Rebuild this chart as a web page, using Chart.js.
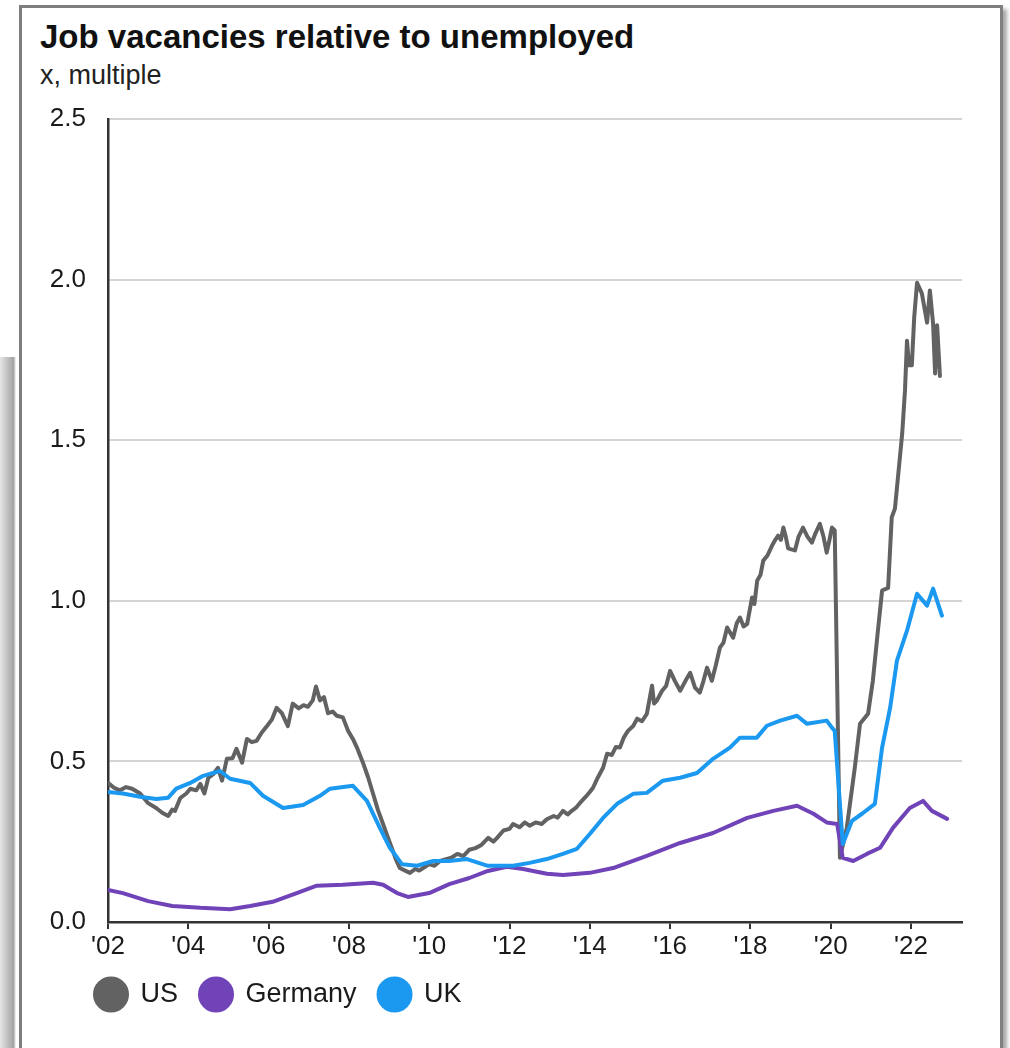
<!DOCTYPE html>
<html>
<head>
<meta charset="utf-8">
<script src="https://cdn.jsdelivr.net/npm/chart.js@4.4.0/dist/chart.umd.min.js"></script>
<style>
  html, body { margin: 0; padding: 0; background: #fff; }
  body { width: 1010px; height: 1048px; position: relative; overflow: hidden; font-family: "Liberation Sans", Arial, sans-serif; }
  #behind { position: absolute; left: 0; top: 357px; width: 16px; height: 720px;
    background: linear-gradient(to right, #e6e6e6, #a4a4a4 85%, #ffffff); }
  #card { position: absolute; left: 19px; top: 5px; width: 978px; height: 1100px;
    border: 3px solid #7f7f7f; background: #fff; box-shadow: 4px 4px 4px rgba(0,0,0,0.35); }
  #title { position: absolute; left: 40px; top: 20px; font-size: 33px; font-weight: bold; line-height: 1; color: #111; white-space: nowrap; }
  #subtitle { position: absolute; left: 40px; top: 62px; font-size: 27px; line-height: 1; color: #222; white-space: nowrap; }
  #wrap { position: absolute; left: 0; top: 0; width: 1010px; height: 1048px; }
</style>
</head>
<body>
<div id="behind"></div>
<div id="card"></div>
<div id="title">Job vacancies relative to unemployed</div>
<div id="subtitle">x, multiple</div>
<div id="wrap"><canvas id="chart"></canvas></div>
<script>
// dates are decimal years, values are the vacancy / unemployed multiple
const usDates = [
  2002.0, 2002.15, 2002.3, 2002.45, 2002.6, 2002.8, 2003.0, 2003.2, 2003.35, 2003.5,
  2003.6, 2003.67, 2003.8, 2003.95, 2004.05, 2004.2, 2004.3, 2004.4, 2004.5, 2004.62,
  2004.74, 2004.84, 2004.96, 2005.1, 2005.2, 2005.34, 2005.46, 2005.58, 2005.7, 2005.83,
  2005.96, 2006.08, 2006.2, 2006.33, 2006.48, 2006.6, 2006.75, 2006.87, 2006.98, 2007.1,
  2007.18, 2007.28, 2007.38, 2007.48, 2007.6, 2007.7, 2007.85, 2007.98, 2008.1, 2008.2,
  2008.35, 2008.48, 2008.6, 2008.72, 2008.85, 2008.95, 2009.07, 2009.17, 2009.27, 2009.4,
  2009.52, 2009.65, 2009.75, 2009.85, 2010.0, 2010.13, 2010.27, 2010.4, 2010.55, 2010.7,
  2010.85, 2011.0, 2011.15, 2011.3, 2011.47, 2011.6, 2011.69, 2011.85, 2012.0, 2012.09,
  2012.25, 2012.38, 2012.5, 2012.65, 2012.8, 2012.93, 2013.1, 2013.2, 2013.33, 2013.45,
  2013.55, 2013.65, 2013.75, 2013.9, 2014.0, 2014.08, 2014.2, 2014.33, 2014.43, 2014.55,
  2014.65, 2014.75, 2014.85, 2014.95, 2015.08, 2015.18, 2015.3, 2015.42, 2015.55, 2015.6,
  2015.67, 2015.8, 2015.9, 2016.0, 2016.12, 2016.25, 2016.38, 2016.5, 2016.62, 2016.74,
  2016.83, 2016.92, 2017.04, 2017.14, 2017.24, 2017.33, 2017.42, 2017.5, 2017.57, 2017.66,
  2017.74, 2017.83, 2017.92, 2018.04, 2018.1, 2018.17, 2018.25, 2018.32, 2018.42, 2018.54,
  2018.62, 2018.69, 2018.76, 2018.82, 2018.88, 2018.94, 2019.02, 2019.11, 2019.2, 2019.31,
  2019.42, 2019.53, 2019.62, 2019.73, 2019.82, 2019.9, 2019.97, 2020.03, 2020.1, 2020.23,
  2020.4, 2020.6, 2020.73, 2020.93, 2021.05, 2021.17, 2021.28, 2021.43, 2021.52, 2021.6,
  2021.78, 2021.85, 2021.9, 2021.95, 2022.02, 2022.08, 2022.15, 2022.27, 2022.4, 2022.47,
  2022.55, 2022.6, 2022.65, 2022.72
];
const usValues = [
  0.433, 0.418, 0.41, 0.42, 0.415, 0.40, 0.37, 0.355, 0.34, 0.33,
  0.35, 0.346, 0.386, 0.40, 0.415, 0.41, 0.43, 0.40, 0.449, 0.46,
  0.48, 0.44, 0.508, 0.51, 0.539, 0.496, 0.57, 0.56, 0.564, 0.59,
  0.61, 0.63, 0.667, 0.65, 0.61, 0.68, 0.665, 0.675, 0.67, 0.69,
  0.733, 0.69, 0.70, 0.65, 0.655, 0.642, 0.637, 0.595, 0.57, 0.543,
  0.496, 0.45, 0.40, 0.35, 0.305, 0.27, 0.23, 0.195, 0.168, 0.16,
  0.153, 0.165, 0.16, 0.168, 0.18, 0.175, 0.19, 0.195, 0.20, 0.212,
  0.205, 0.225, 0.23, 0.24, 0.262, 0.25, 0.262, 0.285, 0.29, 0.305,
  0.295, 0.31, 0.30, 0.31, 0.305, 0.32, 0.33, 0.325, 0.346, 0.335,
  0.346, 0.355, 0.37, 0.39, 0.405, 0.418, 0.45, 0.48, 0.524, 0.52,
  0.545, 0.543, 0.575, 0.595, 0.61, 0.633, 0.625, 0.648, 0.736, 0.68,
  0.689, 0.72, 0.735, 0.782, 0.75, 0.72, 0.75, 0.776, 0.73, 0.714,
  0.75, 0.792, 0.751, 0.80, 0.854, 0.87, 0.917, 0.90, 0.885, 0.93,
  0.948, 0.92, 0.928, 1.01, 0.99, 1.063, 1.08, 1.125, 1.14, 1.172,
  1.19, 1.203, 1.19, 1.228, 1.20, 1.163, 1.16, 1.157, 1.20, 1.228,
  1.20, 1.181, 1.21, 1.24, 1.20, 1.15, 1.19, 1.228, 1.219, 0.20,
  0.293, 0.48, 0.617, 0.648, 0.751, 0.90, 1.032, 1.04, 1.26, 1.287,
  1.52, 1.655, 1.81, 1.733, 1.733, 1.883, 1.99, 1.957, 1.866, 1.966,
  1.863, 1.708, 1.858, 1.70
];

const deDates = [
  2002.0, 2002.37, 2003.0, 2003.6, 2004.3, 2005.04, 2005.54, 2006.1, 2006.7, 2007.2,
  2007.85, 2008.6, 2008.85, 2009.2, 2009.47, 2010.0, 2010.5, 2011.0, 2011.46, 2011.93,
  2012.34, 2012.93, 2013.33, 2014.0, 2014.58, 2015.42, 2016.25, 2017.07, 2017.92, 2018.57,
  2019.16, 2019.57, 2019.9, 2020.16, 2020.3, 2020.56, 2020.9, 2021.23, 2021.55, 2021.97,
  2022.3, 2022.52, 2022.9
];
const deValues = [
  0.10, 0.09, 0.065, 0.05, 0.044, 0.04, 0.05, 0.063, 0.09, 0.113,
  0.116, 0.122, 0.116, 0.09, 0.078, 0.09, 0.118, 0.137, 0.159, 0.172,
  0.165, 0.15, 0.146, 0.153, 0.168, 0.206, 0.246, 0.277, 0.324, 0.346,
  0.362, 0.337, 0.31, 0.305, 0.20, 0.19, 0.212, 0.231, 0.293, 0.355,
  0.377, 0.346, 0.321
];

const ukDates = [
  2002.0, 2002.37, 2002.8, 2003.2, 2003.5, 2003.7, 2004.05, 2004.37, 2004.79, 2005.04,
  2005.54, 2005.86, 2006.36, 2006.86, 2007.28, 2007.53, 2008.1, 2008.45, 2008.77, 2009.02,
  2009.32, 2009.7, 2010.1, 2010.5, 2010.94, 2011.46, 2012.09, 2012.5, 2012.93, 2013.33,
  2013.68, 2014.0, 2014.33, 2014.68, 2015.08, 2015.42, 2015.82, 2016.25, 2016.67, 2017.07,
  2017.49, 2017.74, 2018.16, 2018.41, 2018.74, 2019.16, 2019.41, 2019.9, 2020.03, 2020.1,
  2020.3, 2020.53, 2020.78, 2021.1, 2021.28, 2021.48, 2021.65, 2021.9, 2022.15, 2022.4,
  2022.55, 2022.77
];
const ukValues = [
  0.405, 0.40, 0.39, 0.383, 0.387, 0.415, 0.433, 0.455, 0.47, 0.446,
  0.433, 0.393, 0.355, 0.364, 0.393, 0.415, 0.424, 0.377, 0.293, 0.231,
  0.18, 0.175, 0.19, 0.19, 0.196, 0.175, 0.175, 0.184, 0.196, 0.212,
  0.228, 0.274, 0.324, 0.368, 0.399, 0.402, 0.44, 0.449, 0.464, 0.508,
  0.543, 0.574, 0.574, 0.611, 0.627, 0.642, 0.617, 0.627, 0.605, 0.595,
  0.243, 0.315, 0.337, 0.368, 0.543, 0.667, 0.814, 0.907, 1.022, 0.985,
  1.038, 0.954
];

const seriesNames = ["US", "Germany", "UK"];
const seriesColors = ["#626262", "#7043b8", "#1b98f0"];
const yTicks = [0, 0.5, 1.0, 1.5, 2.0, 2.5];

const toPoints = (xs, ys) => xs.map((x, i) => ({ x: x, y: ys[i] }));

// legend sits a bit right of and closer to the axis than Chart.js puts it
const legendNudge = {
  id: "legendNudge",
  afterLayout(chart) {
    chart.legend.left += 33;
    chart.legend.top -= 13;
  },
};

const ctx = document.getElementById("chart").getContext("2d");
new Chart(ctx, {
  type: "line",
  data: {
    datasets: [
      { label: seriesNames[0], data: toPoints(usDates, usValues), order: 2 },
      { label: seriesNames[1], data: toPoints(deDates, deValues), order: 1 },
      { label: seriesNames[2], data: toPoints(ukDates, ukValues), order: 0 },
    ].map((d, i) => ({
      ...d,
      borderColor: seriesColors[i],
      backgroundColor: seriesColors[i],
      borderWidth: 4,
      borderJoinStyle: "round",
      borderCapStyle: "round",
      pointRadius: 0,
      tension: 0,
      fill: false,
    })),
  },
  plugins: [legendNudge],
  options: {
    responsive: true,
    maintainAspectRatio: false,
    animation: false,
    layout: { padding: { left: 40, right: 48, top: 119, bottom: 17 } },
    plugins: {
      tooltip: { enabled: false },
      legend: {
        position: "bottom",
        align: "start",
        labels: {
          usePointStyle: true,
          pointStyle: "circle",
          pointStyleWidth: 32,
          boxHeight: 22.6,
          padding: 22,
          color: "#1a1a1a",
          font: { family: "'Liberation Sans', Arial, sans-serif", size: 27 },
          sort: (a, b) => a.datasetIndex - b.datasetIndex,
        },
      },
    },
    scales: {
      x: {
        type: "linear",
        min: 2002,
        max: 2023.27,
        afterFit: (s) => { s.height = 50; },
        border: { display: true, color: "#333", width: 2.5 },
        grid: { drawOnChartArea: false, drawTicks: true, tickLength: 7, color: "#333", lineWidth: 2 },
        ticks: {
          stepSize: 2,
          includeBounds: false,
          maxRotation: 0,
          padding: 2,
          color: "#1a1a1a",
          font: { family: "'Liberation Sans', Arial, sans-serif", size: 26 },
          callback: (v) => "'" + String(v).slice(2),
        },
      },
      y: {
        min: yTicks[0],
        max: yTicks[yTicks.length - 1],
        afterFit: (s) => { s.width = 68; },
        border: { display: true, color: "#333", width: 2.5 },
        grid: { drawTicks: false, color: "#d4d4d4", lineWidth: 2 },
        ticks: {
          stepSize: 0.5,
          padding: 22,
          color: "#1a1a1a",
          font: { family: "'Liberation Sans', Arial, sans-serif", size: 26 },
          callback: (v) => v.toFixed(1),
        },
      },
    },
  },
});
</script>
</body>
</html>
